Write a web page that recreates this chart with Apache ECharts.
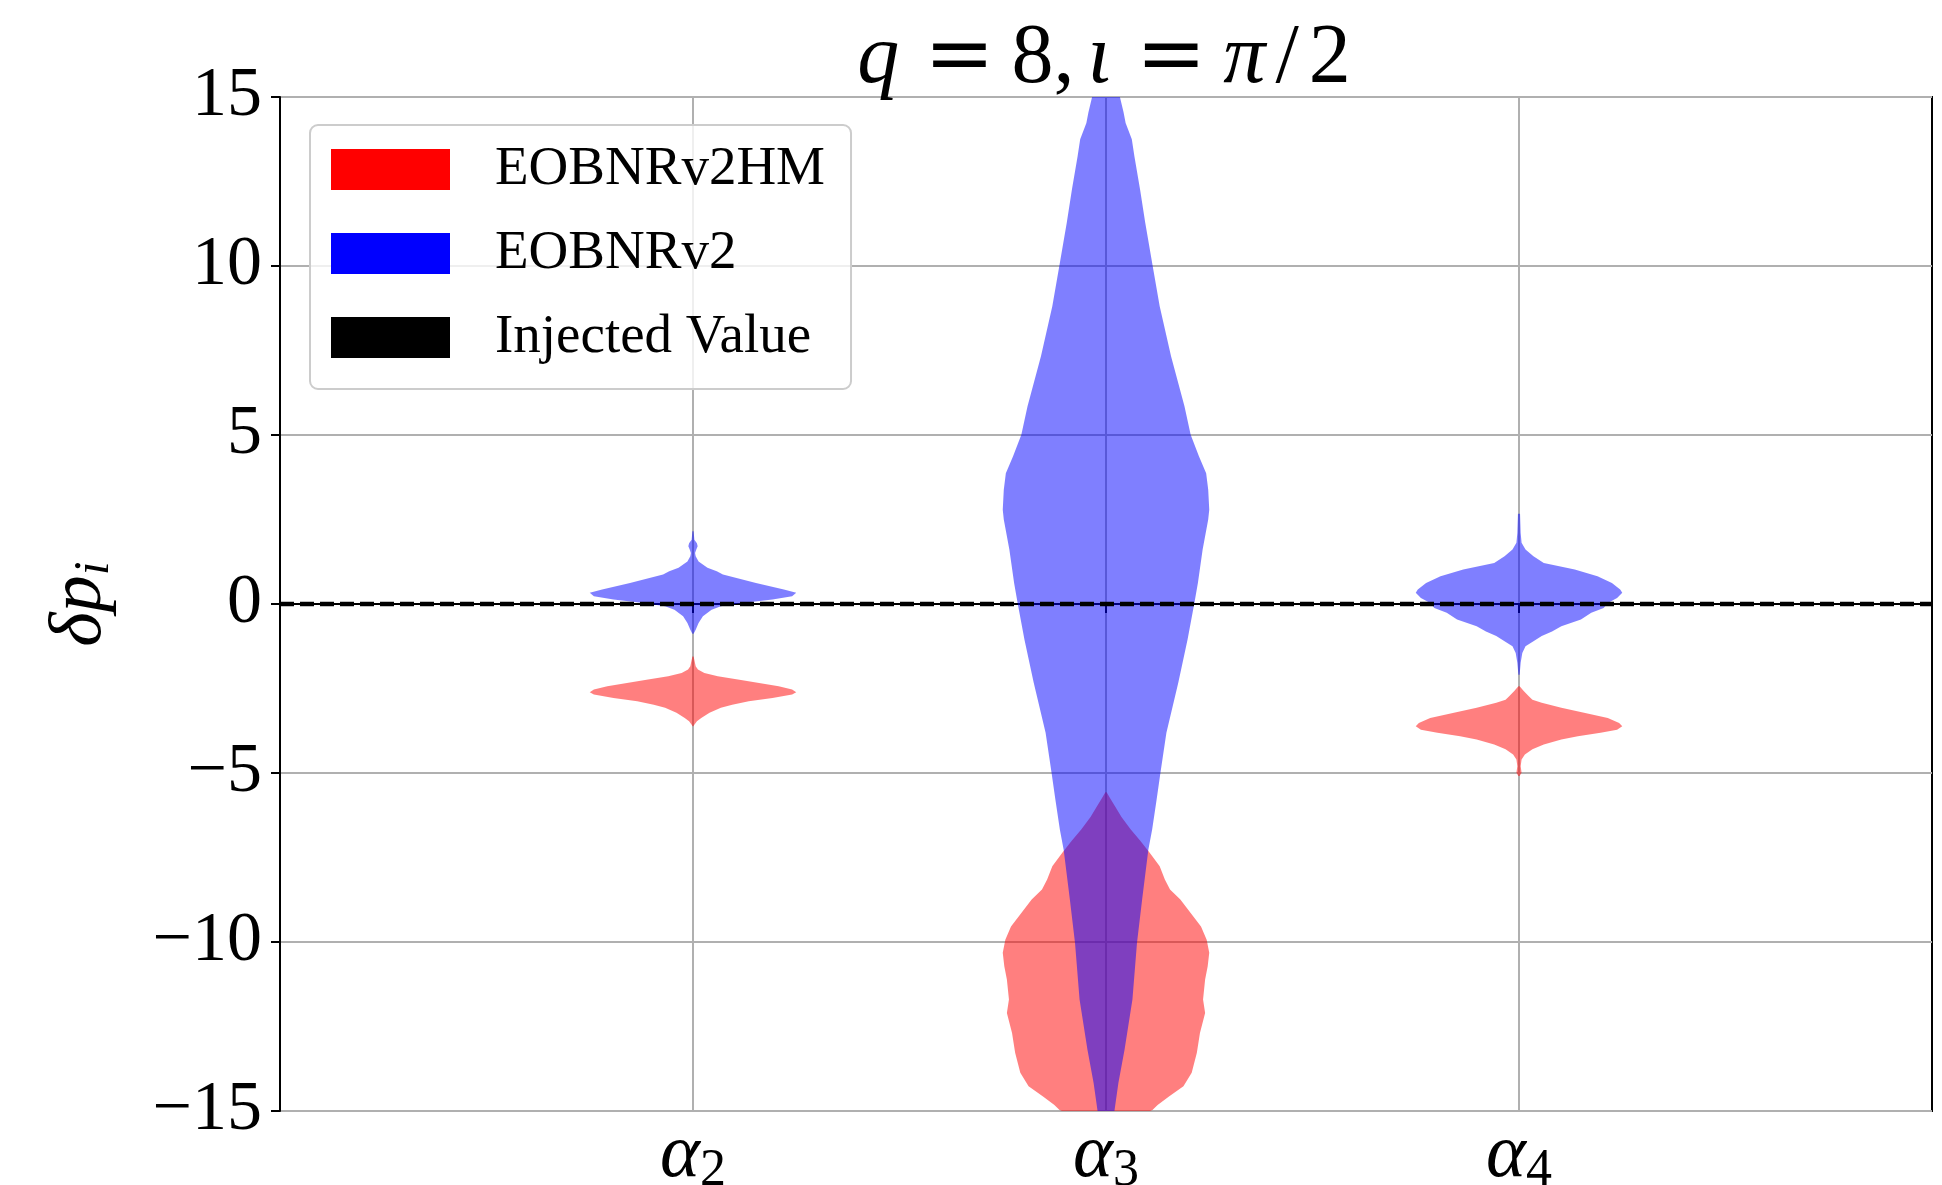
<!DOCTYPE html>
<html>
<head>
<meta charset="utf-8">
<script src="https://cdn.jsdelivr.net/npm/echarts@6/dist/echarts.min.js"></script>
<style>
html,body{margin:0;padding:0;background:#fff;}
#chart{width:1942px;height:1185px;}
</style>
</head>
<body>
<div id="chart"></div>
<script>
// ---------------- data ----------------
const categoryNames = ['α2', 'α3', 'α4'];
const categoryPositions = [1, 2, 3];
const xRange = [0, 4];
const yTicks = [-15, -10, -5, 0, 5, 10, 15];
const seriesNames = ['EOBNRv2HM', 'EOBNRv2', 'Injected Value'];
const injectedValue = 0;

// violin profiles: [value, relative density (1 = widest point)]
const hmAlpha2 = [
  [-1.55, 0.006], [-1.84, 0.026], [-1.94, 0.048], [-2.04, 0.11], [-2.14, 0.24],
  [-2.24, 0.45], [-2.34, 0.64], [-2.43, 0.83], [-2.53, 0.96], [-2.61, 1.0],
  [-2.68, 0.96], [-2.78, 0.77], [-2.88, 0.54], [-2.98, 0.38], [-3.07, 0.27],
  [-3.22, 0.16], [-3.37, 0.08], [-3.47, 0.038], [-3.57, 0.013], [-3.62, 0.004]
];
const hmAlpha3 = [
  [-5.57, 0.006], [-5.75, 0.04], [-6.0, 0.09], [-6.3, 0.15], [-6.67, 0.24],
  [-7.0, 0.33], [-7.37, 0.425], [-7.76, 0.52], [-8.15, 0.57], [-8.45, 0.62],
  [-8.74, 0.72], [-9.14, 0.82], [-9.54, 0.92], [-9.93, 0.975], [-10.32, 1.0],
  [-10.72, 0.985], [-11.11, 0.96], [-11.70, 0.94], [-12.10, 0.96], [-12.69, 0.91],
  [-13.28, 0.88], [-13.87, 0.83], [-14.27, 0.75], [-14.57, 0.61], [-14.82, 0.50],
  [-14.97, 0.45], [-15.3, 0.2]
];
const hmAlpha4 = [
  [-2.43, 0.006], [-2.58, 0.048], [-2.73, 0.095], [-2.83, 0.13], [-2.92, 0.22],
  [-3.07, 0.41], [-3.22, 0.63], [-3.37, 0.86], [-3.52, 0.97], [-3.62, 1.0],
  [-3.72, 0.95], [-3.81, 0.79], [-3.91, 0.57], [-4.01, 0.41], [-4.16, 0.24],
  [-4.30, 0.13], [-4.45, 0.057], [-4.60, 0.025], [-4.80, 0.016], [-4.99, 0.025],
  [-5.09, 0.006]
];
const v2Alpha2 = [
  [2.15, 0.006], [1.90, 0.013], [1.80, 0.038], [1.71, 0.045], [1.61, 0.032],
  [1.51, 0.02], [1.41, 0.026], [1.26, 0.054], [1.07, 0.14], [0.97, 0.23],
  [0.87, 0.29], [0.62, 0.61], [0.43, 0.88], [0.33, 1.0], [0.23, 0.96],
  [0.13, 0.77], [0.03, 0.48], [-0.07, 0.27], [-0.17, 0.18], [-0.36, 0.096],
  [-0.56, 0.054], [-0.76, 0.026], [-0.88, 0.006]
];
const v2Alpha3 = [
  [15.6, 0.10], [14.97, 0.137], [14.55, 0.17], [14.23, 0.19], [13.75, 0.25],
  [13.25, 0.275], [12.26, 0.33], [11.28, 0.38], [10.04, 0.45], [8.81, 0.52],
  [7.33, 0.63], [5.85, 0.76], [5.01, 0.82], [4.37, 0.90], [3.87, 0.97],
  [3.38, 0.99], [2.79, 1.0], [2.50, 0.99], [1.61, 0.936], [0.62, 0.89],
  [0.03, 0.856], [-1.05, 0.79], [-2.33, 0.70], [-3.81, 0.585], [-5.00, 0.527],
  [-5.79, 0.49], [-6.67, 0.447], [-7.27, 0.41], [-8.74, 0.35], [-10.03, 0.30],
  [-11.7, 0.256], [-13.18, 0.18], [-14.17, 0.12], [-14.97, 0.083], [-15.6, 0.05]
];
const v2Alpha4 = [
  [2.67, 0.01], [2.10, 0.016], [1.81, 0.025], [1.61, 0.063], [1.41, 0.14],
  [1.21, 0.24], [1.02, 0.54], [0.82, 0.76], [0.62, 0.90], [0.43, 0.98],
  [0.33, 1.0], [0.18, 0.95], [0.03, 0.86], [-0.12, 0.82], [-0.26, 0.70],
  [-0.46, 0.60], [-0.66, 0.41], [-0.81, 0.32], [-0.95, 0.22], [-1.10, 0.14],
  [-1.25, 0.063], [-1.45, 0.032], [-1.74, 0.016], [-2.09, 0.006]
];

const hmProfiles = [hmAlpha2, hmAlpha3, hmAlpha4];
const v2Profiles = [v2Alpha2, v2Alpha3, v2Alpha4];

// ---------------- chart ----------------
const FONT = 'Liberation Serif';
const HALF = 0.25; // half of the widest violin, in x units

function violinSeries(name, color, profiles) {
  return {
    type: 'custom',
    name: name,
    clip: true,
    itemStyle: { color: color },
    encode: { x: 0, y: 1 },
    data: categoryPositions.map(p => [p, 0]),
    renderItem: function (params, api) {
      const prof = profiles[params.dataIndex];
      const x = api.value(0);
      const pts = [];
      for (let i = 0; i < prof.length; i++) {
        pts.push(api.coord([x - prof[i][1] * HALF, prof[i][0]]));
      }
      for (let i = prof.length - 1; i >= 0; i--) {
        pts.push(api.coord([x + prof[i][1] * HALF, prof[i][0]]));
      }
      return {
        type: 'polygon',
        shape: { points: pts },
        style: { fill: color, opacity: 0.5, stroke: null }
      };
    }
  };
}

const chart = echarts.init(document.getElementById('chart'), null, { renderer: 'canvas' });

const titleTok = { fontFamily: FONT, fontSize: 84, fontWeight: 'normal', color: '#000', lineHeight: 84 };

const option = {
  animation: false,
  backgroundColor: '#ffffff',
  title: {
    text: '{i|q}{e|=}{c|8,}{i|ι}{e|=}{i|π}{s|/}{n|2}',
    left: 1104,
    top: 18,
    padding: 0,
    textAlign: 'center',
    textStyle: {
      fontWeight: 'normal',
      rich: {
        i: Object.assign({}, titleTok, { fontStyle: 'italic' }),
        n: Object.assign({}, titleTok),
        c: Object.assign({}, titleTok, { padding: [0, 13, 0, 0] }),
        s: Object.assign({}, titleTok, { padding: [0, 10, 0, 10] }),
        e: Object.assign({}, titleTok, { fontFamily: 'DejaVu Serif', padding: [0, 17, 0, 25] })
      }
    }
  },
  legend: {
    orient: 'vertical',
    left: 310,
    top: 125,
    icon: 'rect',
    itemWidth: 119,
    itemHeight: 41,
    itemGap: 29,
    selectedMode: false,
    padding: [17, 26, 24, 21],
    backgroundColor: 'rgba(255,255,255,0.8)',
    borderColor: '#cccccc',
    borderWidth: 2,
    borderRadius: 8,
    textStyle: { fontFamily: FONT, fontSize: 55, color: '#000', padding: [0, 0, 0, 40] },
    data: [
      { name: seriesNames[0], itemStyle: { color: '#ff0000', borderWidth: 0 } },
      { name: seriesNames[1], itemStyle: { color: '#0000ff', borderWidth: 0 } },
      { name: seriesNames[2], itemStyle: { color: '#000000', borderWidth: 0 } }
    ]
  },
  grid: {
    left: 280, right: 10, top: 97, bottom: 74,
    outerBoundsMode: 'none',
    containLabel: false,
    show: true, borderColor: '#000', borderWidth: 2, backgroundColor: 'transparent'
  },
  xAxis: {
    type: 'value',
    min: xRange[0], max: xRange[1], interval: 1,
    axisLine: { show: true, lineStyle: { color: '#000', width: 2 } },
    axisTick: { show: true, length: 9, lineStyle: { color: '#000', width: 2 }, customValues: categoryPositions },
    axisLabel: {
      customValues: categoryPositions,
      margin: 4,
      formatter: function (v) {
        const name = categoryNames[categoryPositions.indexOf(v)];
        if (!name) return '';
        return '{a|' + name.charAt(0) + '}{s|' + name.slice(1) + '}';
      },
      rich: {
        a: { fontFamily: FONT, fontStyle: 'italic', fontSize: 76, color: '#000' },
        s: { fontFamily: FONT, fontSize: 52, color: '#000', padding: [30, 0, 0, 0] }
      }
    },
    splitLine: { show: true, lineStyle: { color: '#b0b0b0', width: 2 } }
  },
  yAxis: {
    type: 'value',
    min: -15, max: 15, interval: 5,
    name: '{d|δp}{s|i}',
    nameLocation: 'middle',
    nameRotate: 90,
    nameGap: 160,
    nameTextStyle: {
      rich: {
        d: { fontFamily: FONT, fontStyle: 'italic', fontSize: 74, color: '#000' },
        s: { fontFamily: FONT, fontStyle: 'italic', fontSize: 50, color: '#000', padding: [28, 0, 0, 0] }
      }
    },
    axisLine: { show: true, lineStyle: { color: '#000', width: 2 } },
    axisTick: { show: true, length: 9, lineStyle: { color: '#000', width: 2 } },
    axisLabel: {
      customValues: yTicks,
      fontFamily: FONT, fontSize: 70, color: '#000', margin: 18,
      formatter: function (v) { return v < 0 ? '\u2212' + Math.abs(v) : String(v); }
    },
    splitLine: { show: true, lineStyle: { color: '#b0b0b0', width: 2 } }
  },
  series: [
    violinSeries(seriesNames[0], '#ff0000', hmProfiles),
    violinSeries(seriesNames[1], '#0000ff', v2Profiles),
    {
      type: 'custom',
      name: seriesNames[2],
      clip: true,
      silent: true,
      z: 5,
      itemStyle: { color: '#000000' },
      encode: { x: 0, y: 1 },
      data: [[xRange[0], injectedValue]],
      renderItem: function (params, api) {
        const p1 = api.coord([xRange[0], api.value(1)]);
        const p2 = api.coord([xRange[1], api.value(1)]);
        return {
          type: 'line',
          shape: { x1: p1[0], y1: p1[1], x2: p2[0], y2: p2[1] },
          style: { stroke: '#000000', lineWidth: 4.5, lineDash: [14, 6], lineCap: 'butt', fill: null }
        };
      }
    }
  ]
};

chart.setOption(option);
</script>
</body>
</html>
